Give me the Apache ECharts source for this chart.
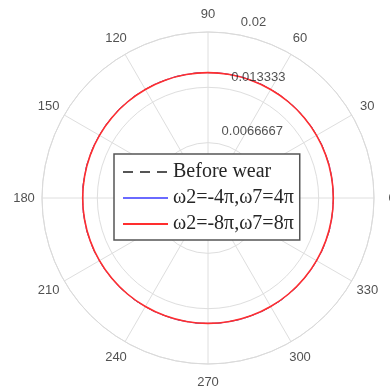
<!DOCTYPE html>
<html>
<head>
<meta charset="utf-8">
<script src="https://cdn.jsdelivr.net/npm/echarts@6/dist/echarts.min.js"></script>
<style>
  html, body { margin: 0; padding: 0; background: #ffffff; }
  #chart { width: 390px; height: 392px; }
</style>
</head>
<body>
<div id="chart"></div>
<script>
// Polar angles (degrees) at which each profile is sampled
const angles = [0, 10, 20, 30, 40, 50, 60, 70, 80, 90, 100, 110, 120,
  130, 140, 150, 160, 170, 180, 190, 200, 210, 220, 230, 240,
  250, 260, 270, 280, 290, 300, 310, 320, 330, 340, 350, 360];

// Radial profile values for each case
const beforeWear = [0.0151, 0.0151, 0.0151, 0.0151, 0.0151, 0.0151, 0.0151, 0.0151, 0.0151, 0.0151,
  0.0151, 0.0151, 0.0151, 0.0151, 0.0151, 0.0151, 0.0151, 0.0151, 0.0151, 0.0151,
  0.0151, 0.0151, 0.0151, 0.0151, 0.0151, 0.0151, 0.0151, 0.0151, 0.0151, 0.0151,
  0.0151, 0.0151, 0.0151, 0.0151, 0.0151, 0.0151, 0.0151];
const case4pi = [0.0151, 0.0151, 0.0151, 0.0151, 0.0151, 0.0151, 0.0151, 0.0151, 0.0151, 0.0151,
  0.0151, 0.0151, 0.0151, 0.0151, 0.0151, 0.0151, 0.0151, 0.0151, 0.0151, 0.0151,
  0.0151, 0.0151, 0.0151, 0.0151, 0.0151, 0.0151, 0.0151, 0.0151, 0.0151, 0.0151,
  0.0151, 0.0151, 0.0151, 0.0151, 0.0151, 0.0151, 0.0151];
const case8pi = [0.0151, 0.0151, 0.0151, 0.0151, 0.0151, 0.0151, 0.0151, 0.0151, 0.0151, 0.0151,
  0.0151, 0.0151, 0.0151, 0.0151, 0.0151, 0.0151, 0.0151, 0.0151, 0.0151, 0.0151,
  0.0151, 0.0151, 0.0151, 0.0151, 0.0151, 0.0151, 0.0151, 0.0151, 0.0151, 0.0151,
  0.0151, 0.0151, 0.0151, 0.0151, 0.0151, 0.0151, 0.0151];

const seriesNames = ['Before wear', 'ω2=-4π,ω7=4π', 'ω2=-8π,ω7=8π'];

// Angular tick marks and their labels
const thetaTicks = [0, 30, 60, 90, 120, 150, 180, 210, 240, 270, 300, 330];
const thetaTickLabels = ['0', '30', '60', '90', '120', '150', '180', '210', '240', '270', '300', '330'];

// Radial tick marks and their labels
const rMax = 0.02;
const rTicks = [0.0066667, 0.013333, 0.02];
const rTickLabels = ['0.0066667', '0.013333', '0.02'];
const rLabelAngle = 80;

const CENTER = [208, 198];
const RADIUS = 166;
const thetaLabelR = rMax * 184 / RADIUS;

const tickFont = { fontFamily: 'Liberation Sans, Arial, sans-serif', fontSize: 13, color: '#262626' };

function profile(values) {
  return values.map((v, i) => [v, angles[i]]);
}

const chart = echarts.init(document.getElementById('chart'), null, { renderer: 'canvas' });

chart.setOption({
  backgroundColor: '#ffffff',
  animation: false,
  polar: { center: CENTER, radius: RADIUS },
  angleAxis: {
    type: 'value',
    min: 0,
    max: 360,
    interval: 30,
    startAngle: 0,
    clockwise: false,
    axisLine: { show: true, lineStyle: { color: '#dadada', width: 1 } },
    axisTick: { show: false },
    axisLabel: { show: false },
    splitLine: { show: true, lineStyle: { color: '#dedede', width: 1 } }
  },
  radiusAxis: {
    type: 'value',
    min: 0,
    max: rMax,
    interval: rMax / 3,
    axisLine: { show: false },
    axisTick: { show: false },
    axisLabel: { show: false },
    splitLine: { show: true, lineStyle: { color: '#dedede', width: 1 } }
  },
  legend: {
    data: seriesNames,
    orient: 'vertical',
    left: 114,
    top: 154,
    padding: [8, 6, 6, 8],
    itemWidth: 45,
    itemHeight: 14,
    itemGap: 6,
    backgroundColor: '#ffffff',
    borderColor: '#555555',
    borderWidth: 1.5,
    borderRadius: 0,
    selectedMode: false,
    itemStyle: { opacity: 0 },
    lineStyle: { width: 2 },
    textStyle: { fontFamily: 'Liberation Serif, Times New Roman, serif', fontSize: 20, color: '#262626' }
  },
  series: [
    {
      name: seriesNames[0],
      type: 'line',
      coordinateSystem: 'polar',
      symbol: 'none',
      smooth: 0.5,
      data: profile(beforeWear),
      lineStyle: { color: '#555555', width: 1, type: [10, 7] },
      itemStyle: { color: '#555555' },
      z: 3
    },
    {
      name: seriesNames[1],
      type: 'line',
      coordinateSystem: 'polar',
      symbol: 'none',
      smooth: 0.5,
      data: profile(case4pi),
      lineStyle: { color: '#6a6aff', width: 1 },
      itemStyle: { color: '#6a6aff' },
      z: 4
    },
    {
      name: seriesNames[2],
      type: 'line',
      coordinateSystem: 'polar',
      symbol: 'none',
      smooth: 0.5,
      data: profile(case8pi),
      lineStyle: { color: '#ff2e2e', width: 1.6 },
      itemStyle: { color: '#ff6a6a' },
      z: 5
    },
    {
      // angular tick labels around the outer ring
      name: 'thetaLabels',
      type: 'scatter',
      coordinateSystem: 'polar',
      symbolSize: 0,
      silent: true,
      clip: false,
      data: thetaTicks.map((t, i) => ({ value: [thetaLabelR, t], name: thetaTickLabels[i] })),
      label: {
        show: true,
        position: 'inside',
        formatter: p => p.name,
        align: 'center',
        verticalAlign: 'middle',
        ...tickFont
      }
    },
    {
      // radial tick labels along the label spoke
      name: 'rLabels',
      type: 'scatter',
      coordinateSystem: 'polar',
      symbolSize: 0,
      silent: true,
      clip: false,
      data: rTicks.map((r, i) => ({ value: [r, rLabelAngle], name: rTickLabels[i] })),
      label: {
        show: true,
        position: [4, -12],
        formatter: p => p.name,
        align: 'left',
        verticalAlign: 'middle',
        ...tickFont
      },
      z: 6
    }
  ]
});
</script>
</body>
</html>
